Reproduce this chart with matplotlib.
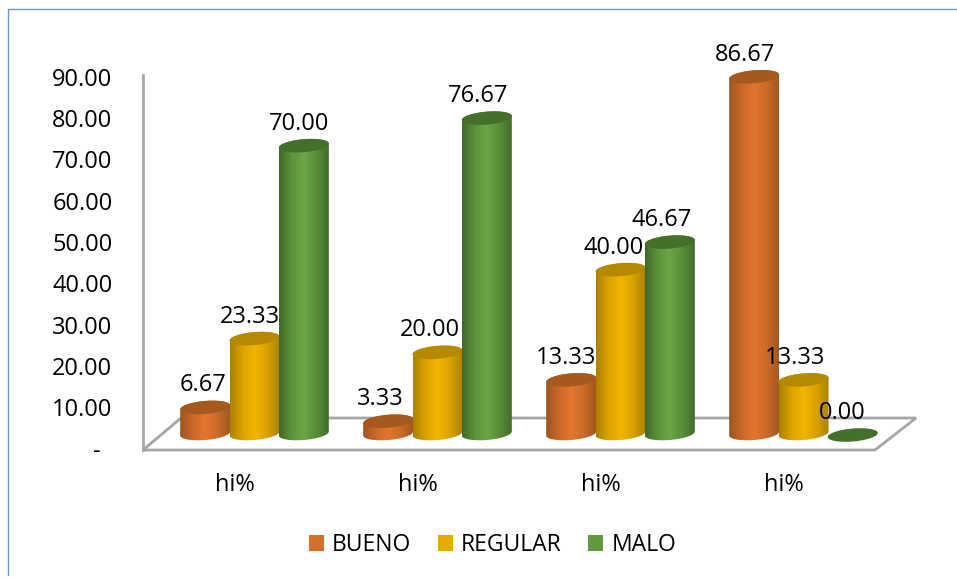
"""
Barras cilindricas 3D falsas (BUENO / REGULAR / MALO) con matplotlib
"""

import numpy as np
import matplotlib.pyplot as plt
from matplotlib.colors import LinearSegmentedColormap
from matplotlib.lines import Line2D
from matplotlib.patches import Patch, Polygon
from matplotlib.transforms import ScaledTranslation

plt.rcParams['font.family'] = ['Open Sans', 'DejaVu Sans']

# Datos
categorias = ['hi%', 'hi%', 'hi%', 'hi%']
bueno = [6.67, 3.33, 13.33, 86.67]
regular = [23.33, 20.00, 40.00, 13.33]
malo = [70.00, 76.67, 46.67, 0.00]
y_ticks = [0, 10, 20, 30, 40, 50, 60, 70, 80, 90]

series = [
    ('BUENO', bueno, ['#9c5520', '#c9682a', '#e3762d', '#cc6b2a', '#a2581f'], '#a6591f', '#d36f2b'),
    ('REGULAR', regular, ['#a98000', '#dca400', '#f2b600', '#d8a200', '#ab8200'], '#b58a00', '#e5ac00'),
    ('MALO', malo, ['#41692a', '#5c923a', '#6ba645', '#598d38', '#436c2b'], '#44702c', '#5f9a3e'),
]
# desplazamiento horizontal de cada etiqueta respecto a su barra (px)
label_dx = [[-2, -5, -5], [-8, -8, -9], [-5, -7, -8], [-9, -9, -11]]

W, H = 957, 578
px_x = 1 / 183.0      # un pixel en unidades de categoria
px_y = 1 / 4.133      # un pixel en unidades de valor
gris = '#a6a6a6'

fig = plt.figure(figsize=(W / 100, H / 100), dpi=100)
ax = fig.add_axes([143 / W, (H - 450) / H, 732 / W, 96 / px_y * 1 / H])
ax.set_facecolor('none')
for s in ax.spines.values():
    s.set_visible(False)

# Suelo y eje vertical
depth_x, depth_y = 41 * px_x, 32 * px_y
x0, x1 = 0, 4
ax.add_patch(Polygon([(x0, 0), (x1, 0), (x1 + depth_x, depth_y), (x0 + 38 * px_x, depth_y)],
                     closed=True, facecolor='white', edgecolor=gris, linewidth=2,
                     clip_on=False, zorder=1))
ax.plot([0, 0], [0, 90.7], color=gris, linewidth=2, clip_on=False, zorder=1)


def ellipse(xc, yc, t):
    a, b, tilt = 25, 6.5, 2
    return (xc + a * np.cos(t) * px_x,
            yc + (b * np.sin(t) + tilt * np.cos(t)) * px_y)


# Cilindros
z = 2
for g in range(len(categorias)):
    for i, (nombre, valores, stops, tapa, _) in enumerate(series):
        val = valores[g]
        xc = g + 0.5 + 20 * px_x + (i - 1) * 49.3 * px_x
        yb = 16.5 * px_y
        yt = yb + val - 1.5 * px_y

        if val > 0:
            t_low = np.linspace(np.pi, 2 * np.pi, 50)
            t_up = np.linspace(0, np.pi, 50)
            xl, yl = ellipse(xc, yb, t_low)
            xu, yu = ellipse(xc, yt, t_up)
            cuerpo = Polygon(np.column_stack([np.r_[xl, xu], np.r_[yl, yu]]), closed=True,
                             facecolor='none', edgecolor='none', transform=ax.transData)
            ax.add_patch(cuerpo)
            cmap = LinearSegmentedColormap.from_list(nombre, stops)
            grad = np.linspace(0, 1, 128).reshape(1, -1)
            im = ax.imshow(grad, cmap=cmap, aspect='auto', interpolation='bilinear', zorder=z,
                           extent=[xc - 25 * px_x, xc + 25 * px_x, yb - 10 * px_y, yt + 10 * px_y])
            im.set_clip_path(cuerpo)

        xe, ye = ellipse(xc, yt, np.linspace(0, 2 * np.pi, 100))
        ax.fill(xe, ye, color=tapa, linewidth=0, zorder=z + 0.5, clip_on=False)
        z += 1

        ax.annotate(f'{val:.2f}', (xc, yb + val), xytext=(label_dx[g][i] / 1.389, 20.5 / 1.389),
                    textcoords='offset points', ha='center', va='center',
                    fontsize=17, color='black', zorder=100, annotation_clip=False)

ax.set_xlim(0, 4)
ax.set_ylim(0, 96)
ax.set_xticks([0.5, 1.5, 2.5, 3.5])
ax.set_xticklabels(categorias, fontsize=17)
ax.set_yticks(y_ticks)
ax.set_yticklabels(['-  '] + [f'{v:.2f}' for v in y_ticks[1:]], fontsize=17)
ax.tick_params(axis='y', length=0, pad=22)
ax.tick_params(axis='x', length=0, pad=16.5)
for lab in ax.get_yticklabels():
    lab.set_transform(lab.get_transform() + ScaledTranslation(0, 1.5 / 100, fig.dpi_scale_trans))

# Leyenda
handles = [Patch(facecolor=s[4], edgecolor='none', label=s[0]) for s in series]
fig.legend(handles=handles, loc='center', bbox_to_anchor=(492.5 / W, (H - 545) / H), ncol=3,
           frameon=False, fontsize=16.5, handlelength=0.66, handleheight=0.66,
           handletextpad=0.36, columnspacing=1.15, borderpad=0, borderaxespad=0)

# Borde azul del grafico
azul = '#6f94d6'
fig.add_artist(Line2D([8 / W, 8 / W, 1], [0.005, (H - 9) / H, (H - 9) / H], color=azul, linewidth=1))

fig.savefig('out.png', dpi=100)
plt.close(fig)
